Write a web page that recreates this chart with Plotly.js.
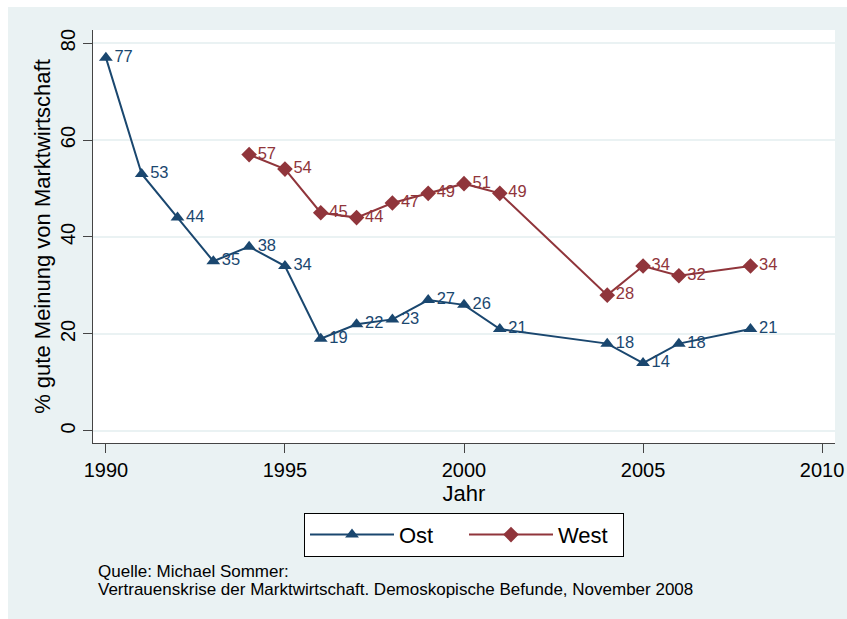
<!DOCTYPE html>
<html>
<head>
<meta charset="utf-8">
<script src="https://cdn.plot.ly/plotly-3.0.1.min.js"></script>
<style>
html, body { margin: 0; padding: 0; background: #ffffff; }
#chart { position: absolute; left: 8px; top: 7px; width: 839px; height: 612px; }
</style>
</head>
<body>
<div id="chart"></div>
<script>
const ostYears = [1990, 1991, 1992, 1993, 1994, 1995, 1996, 1997, 1998, 1999, 2000, 2001, 2004, 2005, 2006, 2008];
const ostValues = [77, 53, 44, 35, 38, 34, 19, 22, 23, 27, 26, 21, 18, 14, 18, 21];
const westYears = [1994, 1995, 1996, 1997, 1998, 1999, 2000, 2001, 2004, 2005, 2006, 2008];
const westValues = [57, 54, 45, 44, 47, 49, 51, 49, 28, 34, 32, 34];
const xTicks = [1990, 1995, 2000, 2005, 2010];
const yTicks = [0, 20, 40, 60, 80];
const sourceLines = ["Quelle: Michael Sommer:", "Vertrauenskrise der Marktwirtschaft. Demoskopische Befunde, November 2008"];

const ostColor = '#1a476f';
const westColor = '#90353b';
const font = 'Liberation Sans, Arial, sans-serif';

const traces = [
  {
    x: ostYears, y: ostValues, name: 'Ost', type: 'scatter', mode: 'lines+markers+text',
    line: {color: ostColor, width: 2},
    marker: {symbol: 'triangle-up', size: 12, color: ostColor},
    text: ostValues.map(String), textposition: 'middle right',
    textfont: {family: font, size: 16.5, color: ostColor},
    cliponaxis: false
  },
  {
    x: westYears, y: westValues, name: 'West', type: 'scatter', mode: 'lines+markers+text',
    line: {color: westColor, width: 2},
    marker: {symbol: 'diamond', size: 12, color: westColor},
    text: westValues.map(String), textposition: 'middle right',
    textfont: {family: font, size: 16.5, color: westColor},
    cliponaxis: false
  }
];

const layout = {
  width: 839, height: 612,
  paper_bgcolor: '#eaf2f3',
  plot_bgcolor: '#ffffff',
  font: {family: font, color: '#000000'},
  margin: {l: 85, r: 12, t: 23, b: 176},
  showlegend: true,
  xaxis: {
    range: [1989.64, 2010.36],
    tickvals: xTicks, ticktext: xTicks.map(String),
    ticks: 'outside', ticklen: 9, tickwidth: 1, tickcolor: '#444444',
    showgrid: false, zeroline: false,
    showline: true, linecolor: '#444444', linewidth: 1,
    tickfont: {family: font, size: 20, color: '#000000'},
    title: {text: 'Jahr', font: {family: font, size: 22, color: '#000000'}, standoff: 0}
  },
  yaxis: {
    range: [-2.5, 82.7],
    tickvals: yTicks, ticktext: yTicks.map(String),
    ticks: 'outside', ticklen: 9, tickwidth: 1, tickcolor: '#444444',
    tickangle: -90,
    showgrid: true, gridcolor: '#eaf2f3', gridwidth: 1.5,
    zeroline: false,
    showline: true, linecolor: '#444444', linewidth: 1,
    tickfont: {family: font, size: 20, color: '#000000'},
    title: {text: '% gute Meinung von Marktwirtschaft', font: {family: font, size: 22, color: '#000000'}, standoff: 0}
  },
  legend: {
    orientation: 'h', x: 0.5, xanchor: 'center', y: -0.169, yanchor: 'top',
    bgcolor: '#ffffff', bordercolor: '#000000', borderwidth: 1,
    font: {family: font, size: 22, color: '#000000'},
    itemwidth: 84, entrywidth: 60
  },
  annotations: sourceLines.map((t, i) => ({
    text: t, xref: 'paper', yref: 'paper', x: 0.004, y: -0.311 - i * 0.043,
    xanchor: 'left', yanchor: 'middle', showarrow: false,
    font: {family: font, size: 17, color: '#000000'}
  }))
};

Plotly.newPlot('chart', traces, layout, {displayModeBar: false, staticPlot: true});
</script>
</body>
</html>
